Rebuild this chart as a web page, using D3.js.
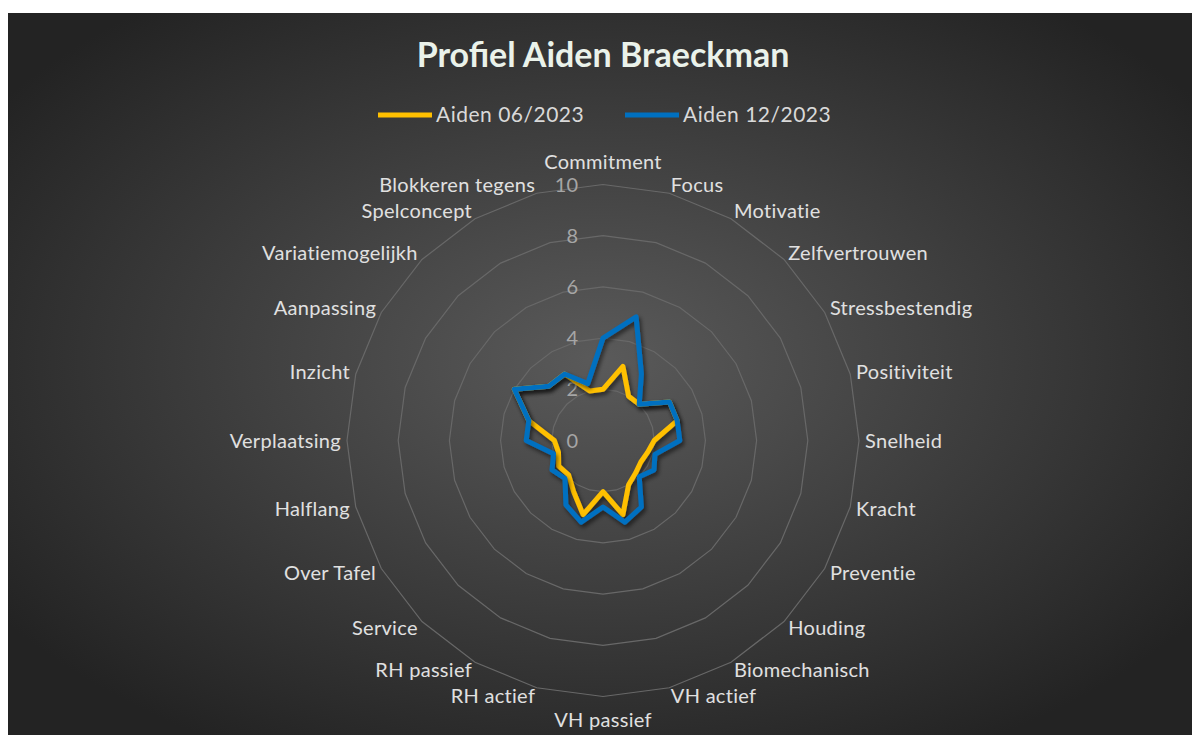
<!DOCTYPE html>
<html>
<head>
<meta charset="utf-8">
<script src="https://cdn.jsdelivr.net/npm/d3@7"></script>
<style>
	body { margin: 0; background: #ffffff; }
	svg { display: block; }
	text { font-family: Lato, "Open Sans", sans-serif; }
</style>
</head>
<body>
<div id="chart"></div>
<script>
var categories = ['Commitment', 'Focus', 'Motivatie', 'Zelfvertrouwen', 'Stressbestendig', 'Positiviteit',
	'Snelheid', 'Kracht', 'Preventie', 'Houding', 'Biomechanisch', 'VH actief', 'VH passief', 'RH actief',
	'RH passief', 'Service', 'Over Tafel', 'Halflang', 'Verplaatsing', 'Inzicht', 'Aanpassing',
	'Variatiemogelijkh', 'Spelconcept', 'Blokkeren tegens'];

var seriesNames = ['Aiden 06/2023', 'Aiden 12/2023'];
var aiden0623 = [2, 3, 2, 2, 3, 3, 2, 1.8, 1.7, 1.8, 2, 3, 2, 3, 2.3, 1.9, 2, 1.8, 1.9, 3, 4, 3, 3, 2];
var aiden1223 = [4, 5, 3, 2, 3, 3, 3, 2.1, 2.3, 2, 3, 3.3, 2.6, 3.3, 2.9, 2.1, 2.3, 2, 3, 3, 4, 3, 3, 2.3];
var ticks = [0, 2, 4, 6, 8, 10];
var colors = ['#FFC000', '#0070C0'];

var width = 1192, height = 735;
var cx = 603, cy = 440.5, radius = 256;

var svg = d3.select('#chart')
	.append('svg')
	.attr('width', width)
	.attr('height', height);

var defs = svg.append('defs');

var grad = defs.append('radialGradient')
	.attr('id', 'bg')
	.attr('cx', '50%').attr('cy', '48%').attr('r', '62%');
grad.append('stop').attr('offset', '0%').attr('stop-color', '#5a5a5a');
grad.append('stop').attr('offset', '100%').attr('stop-color', '#232323');

var shadow = defs.append('filter')
	.attr('id', 'shadow')
	.attr('x', '-20%').attr('y', '-20%').attr('width', '140%').attr('height', '140%');
shadow.append('feDropShadow')
	.attr('dx', 2).attr('dy', 3)
	.attr('stdDeviation', 2)
	.attr('flood-color', '#000')
	.attr('flood-opacity', 0.55);

// chart area
svg.append('rect')
	.attr('x', 8).attr('y', 13)
	.attr('width', width - 8).attr('height', height - 13)
	.attr('fill', 'url(#bg)');

// title
svg.append('text')
	.attr('x', cx).attr('y', 67)
	.attr('text-anchor', 'middle')
	.attr('fill', '#eaf2ea')
	.style('font-size', '34px')
	.style('font-weight', 'bold')
	.text('Profiel Aiden Braeckman');

// legend
var legendX = [378, 625];
var legend = svg.append('g').selectAll('g')
	.data(seriesNames)
	.enter()
	.append('g')
	.attr('transform', function(d, i){ return 'translate(' + legendX[i] + ',115)'; });
legend.append('line')
	.attr('x1', 0).attr('x2', 54)
	.attr('stroke', function(d, i){ return colors[i]; })
	.attr('stroke-width', 5);
legend.append('text')
	.attr('x', 58).attr('dy', '0.35em')
	.attr('fill', '#d9d9d9')
	.style('font-size', '21px')
	.style('letter-spacing', '0.5px')
	.text(function(d){ return d; });

var angle = d3.scaleLinear()
	.domain([0, categories.length])
	.range([0, 2 * Math.PI]);

var r = d3.scaleLinear()
	.domain([0, 10])
	.range([0, radius]);

// grid rings
var ring = d3.lineRadial()
	.angle(function(d, i){ return angle(i); })
	.radius(function(d){ return r(d); })
	.curve(d3.curveLinearClosed);

var g = svg.append('g').attr('transform', 'translate(' + cx + ',' + cy + ')');

g.selectAll('.ring')
	.data(ticks.slice(1))
	.enter()
	.append('path')
	.attr('class', 'ring')
	.attr('d', function(t){ return ring(categories.map(function(){ return t; })); })
	.attr('fill', 'none')
	.attr('stroke', '#686868')
	.attr('stroke-width', 1.2);

// tick labels
g.selectAll('.tick')
	.data(ticks)
	.enter()
	.append('text')
	.attr('class', 'tick')
	.attr('x', -25)
	.attr('y', function(t){ return -r(t); })
	.attr('dy', '0.35em')
	.attr('text-anchor', 'end')
	.attr('fill', '#a6a6a6')
	.style('font-size', '20px')
	.text(function(t){ return t; });

// category labels
var labelR = 262;
g.selectAll('.cat')
	.data(categories)
	.enter()
	.append('text')
	.attr('class', 'cat')
	.attr('x', function(d, i){ return Math.sin(angle(i)) * labelR; })
	.attr('y', function(d, i){
		var c = Math.cos(angle(i)), s = Math.sin(angle(i));
		var extra = Math.abs(s) < 0.05 ? 17 : 3;
		return -c * labelR - c * extra;
	})
	.attr('dy', '0.35em')
	.attr('text-anchor', function(d, i){
		var s = Math.sin(angle(i));
		return s > 0.05 ? 'start' : (s < -0.05 ? 'end' : 'middle');
	})
	.attr('fill', '#e0e0e0')
	.style('font-size', '20px')
	.style('letter-spacing', '0.3px')
	.text(function(d){ return d; });

// series
var line = d3.lineRadial()
	.angle(function(d, i){ return angle(i); })
	.radius(function(d){ return r(d); })
	.curve(d3.curveLinearClosed);

g.selectAll('.series')
	.data([aiden0623, aiden1223])
	.enter()
	.append('path')
	.attr('class', 'series')
	.attr('d', line)
	.attr('fill', 'none')
	.attr('stroke', function(d, i){ return colors[i]; })
	.attr('stroke-width', 5)
	.attr('stroke-linejoin', 'round')
	.attr('filter', 'url(#shadow)');
</script>
</body>
</html>
